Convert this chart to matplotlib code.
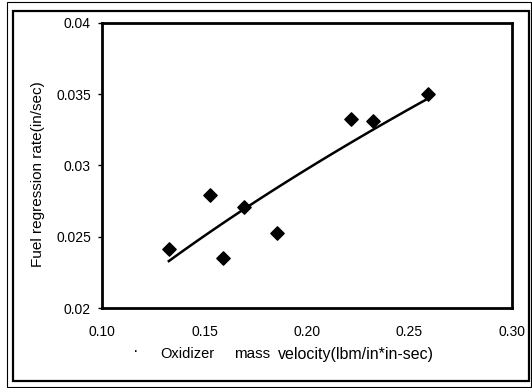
import numpy as np
import matplotlib
matplotlib.use("Agg")
import matplotlib.pyplot as plt
from matplotlib.patches import Rectangle

plt.rcParams['font.family'] = ['Liberation Sans', 'DejaVu Sans']

# oxidizer mass velocity (lbm/in^2-sec) and fuel regression rate (in/sec)
mass_velocity = [0.1326, 0.1525, 0.1590, 0.1693, 0.1853, 0.2215, 0.2321, 0.2589]
regression_rate = [0.02413, 0.02793, 0.02352, 0.02707, 0.02525, 0.03326, 0.03309, 0.03503]

x_ticks = [0.10, 0.15, 0.20, 0.25, 0.30]
x_ticklabels = ["0.10", "0.15", "0.20", "0.25", "0.30"]
y_ticks = [0.02, 0.025, 0.03, 0.035, 0.04]
y_ticklabels = ["0.02", "0.025", "0.03", "0.035", "0.04"]

W, H = 532, 388
fig = plt.figure(figsize=(W / 100, H / 100), dpi=100)
ax = fig.add_axes([102 / W, 1 - 308 / H, (512 - 102) / W, (308 - 23) / H])

ax.scatter(mass_velocity, regression_rate, marker='D', s=46, color='black', zorder=3)

# power-law trendline r = a * G^n fitted to the points
gx = np.array(mass_velocity)
gy = np.array(regression_rate)
n, loga = np.polyfit(np.log(gx), np.log(gy), 1)
xs = np.linspace(gx.min(), gx.max(), 50)
ax.plot(xs, np.exp(loga) * xs ** n, color='black', lw=1.8)

ax.set_xlim(0.10, 0.30)
ax.set_ylim(0.02, 0.04)
ax.set_xticks(x_ticks)
ax.set_xticklabels(x_ticklabels, fontsize=10)
ax.set_yticks(y_ticks)
ax.set_yticklabels(y_ticklabels, fontsize=10)
ax.tick_params(axis='x', length=0, pad=12)
ax.tick_params(axis='y', length=3, width=1, pad=5)
for s in ax.spines.values():
    s.set_linewidth(2)

fig.text(38 / W, 1 - 174 / H, "Fuel regression rate(in/sec)", rotation=90,
         ha='center', va='center', fontsize=11)
# x label, spread out like the scanned original
fig.text(160 / W, 1 - 354 / H, "Oxidizer", ha='left', va='center', fontsize=10.5)
fig.text(234 / W, 1 - 354 / H, "mass", ha='left', va='center', fontsize=11)
fig.text(278 / W, 1 - 354 / H, "velocity(lbm/in*in-sec)", ha='left', va='center', fontsize=11.5)
fig.text(136 / W, 1 - 352 / H, "\u00b7", ha='center', va='center', fontsize=12)

# double frame around the picture
fig.patches.append(Rectangle((13 / W, 1 - 381 / H), (529 - 13) / W, (381 - 11) / H,
                             transform=fig.transFigure, fill=False, lw=1.6, ec='black'))
fig.patches.append(Rectangle((7 / W, 1 - 387 / H), (531 - 7) / W, (387 - 2) / H,
                             transform=fig.transFigure, fill=False, lw=0.8, ec='black'))

fig.savefig("out.png", dpi=100)
